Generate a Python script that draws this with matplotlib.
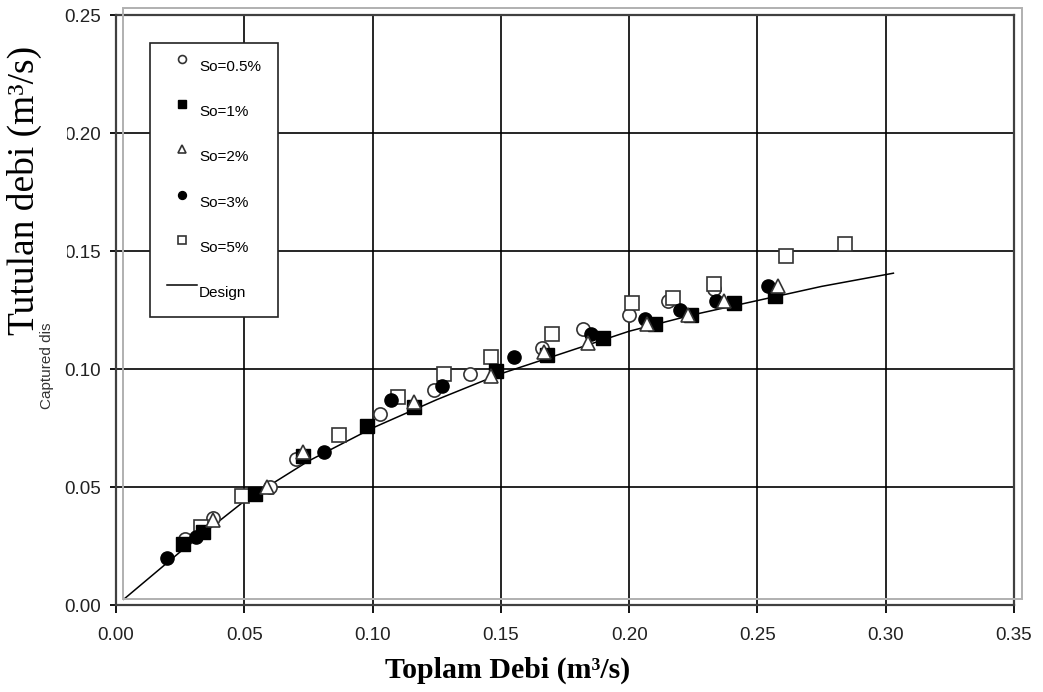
import matplotlib
matplotlib.use("Agg")
import matplotlib.pyplot as plt
import numpy as np
from matplotlib.patches import Rectangle
from matplotlib.legend_handler import HandlerLine2D

# series
so05_x = [0.027, 0.038, 0.060, 0.070, 0.103, 0.124, 0.138, 0.166, 0.182, 0.200, 0.215, 0.233]
so05_y = [0.028, 0.037, 0.050, 0.062, 0.081, 0.091, 0.098, 0.109, 0.117, 0.123, 0.129, 0.134]

so1_x = [0.026, 0.034, 0.054, 0.073, 0.098, 0.116, 0.148, 0.168, 0.190, 0.210, 0.224, 0.241, 0.257]
so1_y = [0.026, 0.031, 0.047, 0.063, 0.076, 0.084, 0.099, 0.106, 0.113, 0.119, 0.123, 0.128, 0.131]

so2_x = [0.038, 0.059, 0.073, 0.116, 0.146, 0.167, 0.184, 0.207, 0.223, 0.237, 0.258]
so2_y = [0.036, 0.050, 0.065, 0.086, 0.097, 0.107, 0.111, 0.119, 0.123, 0.129, 0.135]

so3_x = [0.020, 0.031, 0.081, 0.107, 0.127, 0.155, 0.185, 0.206, 0.220, 0.234, 0.254]
so3_y = [0.020, 0.029, 0.065, 0.087, 0.093, 0.105, 0.115, 0.121, 0.125, 0.129, 0.135]

so5_x = [0.033, 0.049, 0.087, 0.110, 0.128, 0.146, 0.170, 0.201, 0.217, 0.233, 0.261, 0.284]
so5_y = [0.033, 0.046, 0.072, 0.088, 0.098, 0.105, 0.115, 0.128, 0.130, 0.136, 0.148, 0.153]

design_x = [0.003, 0.025, 0.050, 0.075, 0.100, 0.125, 0.150, 0.175, 0.200, 0.225, 0.250, 0.275, 0.303]
design_y = [0.0024, 0.0225, 0.044, 0.061, 0.075, 0.087, 0.098, 0.107, 0.116, 0.123, 0.129, 0.135, 0.1406]

xticks = [0.00, 0.05, 0.10, 0.15, 0.20, 0.25, 0.30, 0.35]
yticks = [0.00, 0.05, 0.10, 0.15, 0.20, 0.25]


class RaisedHandler(HandlerLine2D):
    # legend symbols sit a bit above their text, as in the scanned chart
    def create_artists(self, legend, orig_handle, xdescent, ydescent, width, height, fontsize, trans):
        arts = super().create_artists(legend, orig_handle, xdescent, ydescent, width, height, fontsize, trans)
        for a in arts:
            a.set_ydata(np.asarray(a.get_ydata(), dtype=float) + 0.45 * fontsize)
        return arts


W, H = 1043, 692
dpi = 100
fig = plt.figure(figsize=(W / dpi, H / dpi), dpi=dpi)
plt.rcParams["font.family"] = ["Liberation Sans", "DejaVu Sans"]

# axes box in pixels: left 116, right 1014, top 15, bottom 605
ax = fig.add_axes([116 / W, 1 - 605 / H, (1014 - 116) / W, (605 - 15) / H])
ax.set_xlim(0, 0.35)
ax.set_ylim(0, 0.25)
ax.set_xticks(xticks, [f"{v:.2f}" for v in xticks])
ax.set_yticks(yticks, [f"{v:.2f}" for v in yticks])
ax.grid(True, color="black", linewidth=1.2)
ax.set_axisbelow(True)
for s in ax.spines.values():
    s.set_color("#404040")
    s.set_linewidth(1.6)
ax.tick_params(axis="x", length=6, width=1.3, pad=10, labelsize=13.5, labelcolor="#222222")
ax.tick_params(axis="y", length=4, width=1.3, pad=7, labelsize=13.5, labelcolor="#222222")

ms = 9.5
ax.plot(design_x, design_y, color="black", linewidth=1.1, label="Design", zorder=2)
ax.plot(so05_x, so05_y, "o", ms=ms, mfc="white", mec="#333333", mew=1.2, label="So=0.5%", zorder=3)
ax.plot(so5_x, so5_y, "s", ms=ms, mfc="white", mec="#333333", mew=1.2, label="So=5%", zorder=3)
ax.plot(so3_x, so3_y, "o", ms=ms, mfc="black", mec="black", label="So=3%", zorder=4)
ax.plot(so1_x, so1_y, "s", ms=ms, mfc="black", mec="black", label="So=1%", zorder=4)
ax.plot(so2_x, so2_y, "^", ms=ms, mfc="white", mec="#333333", mew=1.2, label="So=2%", zorder=5)

handles, labels = ax.get_legend_handles_labels()
order = ["So=0.5%", "So=1%", "So=2%", "So=3%", "So=5%", "Design"]
hmap = dict(zip(labels, handles))
leg = ax.legend([hmap[k] for k in order], order, loc="upper left",
                bbox_to_anchor=((150 - 116) / 898, (605 - 43) / 590),
                borderaxespad=0, fontsize=11, markerscale=0.6, labelspacing=2.05,
                handlelength=2.0, handletextpad=0.1, borderpad=1.1,
                handler_map={type(hmap["Design"]): RaisedHandler()},
                frameon=True, fancybox=False, edgecolor="#222222", framealpha=1)
leg.get_frame().set_linewidth(1.2)
leg.set_zorder(10)

# grey outer plot-area frame, shifted from the axes box
fig.add_artist(Rectangle((122.7 / W, 1 - 599 / H), (1021.7 - 122.7) / W, (599 - 8) / H,
                         transform=fig.transFigure, fill=False, edgecolor="#b0b0b0",
                         linewidth=1.4, zorder=1))

fig.text(47 / W, 1 - 366 / H, "Captured dis", rotation=90, ha="center", va="center",
         fontsize=11, color="#333333")

# white box of the pasted y-axis title, it hides part of the tick labels
fig.add_artist(Rectangle((0, 1 - 308 / H), 67 / W, (308 - 30) / H, transform=fig.transFigure,
                         facecolor="white", edgecolor="none", zorder=20))
fig.text(24 / W, 1 - 190 / H, "Tutulan debi (m³/s)", rotation=90, ha="center", va="center",
         fontsize=27, family=["Liberation Serif", "DejaVu Serif"], zorder=21)
fig.text(508 / W, 1 - 670 / H, "Toplam Debi (m³/s)", ha="center", va="center",
         fontsize=21.5, fontweight="bold", family=["Liberation Serif", "DejaVu Serif"])

fig.savefig("out.png", dpi=dpi)
